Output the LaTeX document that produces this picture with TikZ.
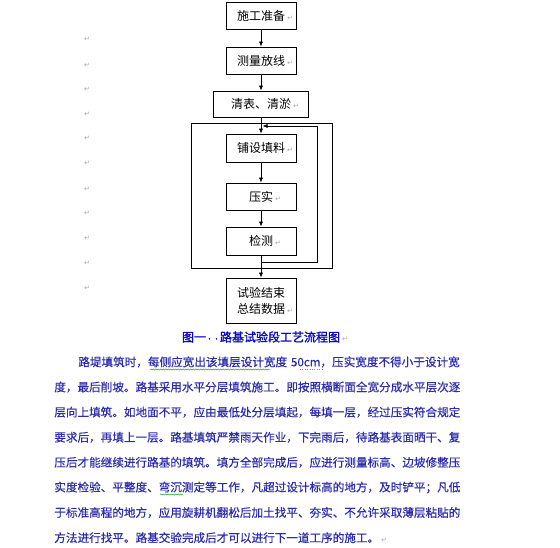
\documentclass[tikz,border=0pt]{standalone}
\usepackage{fontspec}
\usetikzlibrary{arrows.meta,decorations.pathmorphing}
\newfontfamily\cjk{Noto Sans CJK SC}
\newfontfamily\cjkbody[FakeBold=0.5]{Noto Sans CJK SC}
\newfontfamily\cjkbold[FakeBold=1.6]{Noto Sans CJK SC}
\newfontfamily\retfont{DejaVu Sans}
\XeTeXlinebreaklocale "zh"
\XeTeXlinebreakskip=0pt plus 1pt
\definecolor{bodyblue}{RGB}{45,45,170}
\definecolor{capblue}{RGB}{10,10,190}
\newcommand{\retmark}{\rlap{\,\textcolor{black!35}{\retfont\fontsize{7}{7}\selectfont ↵}}}
\newcommand{\fullline}{\leftskip=0pt\rightskip=0pt\parfillskip=0pt\relax}

\begin{document}
\begin{tikzpicture}[x=1pt, y=-1pt, line width=0.7pt,
	every node/.style={font=\cjk\fontsize{12}{16}\selectfont},
	stepbox/.style={draw, minimum width=70pt, minimum height=27pt, inner sep=0pt},
	flow/.style={-{Latex[length=5pt,width=4pt]}},
	bodyline/.style={anchor=west, inner sep=0pt, text width=413pt, text=bodyblue, font=\cjkbody\fontsize{11.6}{13}\selectfont},
	retmk/.style={text=black!35, inner sep=0pt, font=\retfont\fontsize{7}{7}\selectfont},
	spellmark/.style={green!55!black, line width=0.4pt, decorate, decoration={snake, amplitude=0.6pt, segment length=2.5pt}}]
	\useasboundingbox (0,0) rectangle (560,548);
	% flow chart
	\node[stepbox] (prep) at (261,16) {施工准备\retmark};
	\node[stepbox] (survey) at (261,60.5) {测量放线\retmark};
	\node[stepbox, minimum width=95pt, minimum height=26pt] (clear) at (261,104) {清表、清淤\retmark};
	\node[stepbox, minimum height=28pt] (spread) at (261,148) {铺设填料\retmark};
	\node[stepbox] (compact) at (261,196.5) {压实\retmark};
	\node[stepbox, minimum height=28pt] (check) at (261,241) {检测\retmark};
	\node[stepbox, minimum height=45pt, align=center] (finish) at (261,300.5) {试验结束\\总结数据\retmark};
	\draw (191,123) rectangle (332,268);
	\coordinate (lb) at (317,262);
	\coordinate (lt) at (317,126);
	\draw[flow] (prep) -- (survey);
	\draw[flow] (survey) -- (clear);
	\draw[flow] (clear) -- (spread);
	\draw[flow] (spread) -- (compact);
	\draw[flow] (compact) -- (check);
	\draw[flow] (check) -- (finish);
	\draw[flow] (check.south |- lb) -- (lb) -- (lt) -- ([xshift=1.5pt]spread.north |- lt);
	\node[text=capblue, font=\cjkbold\fontsize{12}{14}\selectfont] (caption) at (261,337) {图一{\fontsize{7}{7}\selectfont··}路基试验段工艺流程图\retmark};
	% paragraph marks of the empty lines
	\foreach \y in {39,65,89,114,138,163,189,213,238,263,288}
		\node[retmk] (mk\y) at (87,\y) {↵};
	% body text
	\node[bodyline, text width=389pt] (p1) at (78,362) {\fullline 路堤填筑时，每侧应宽出该填层设计宽度 50cm，压实宽度不得小于设计宽};
	\node[bodyline] (p2) at (54,387.1) {\fullline 度，最后削坡。路基采用水平分层填筑施工。即按照横断面全宽分成水平层次逐};
	\node[bodyline] (p3) at (54,412.2) {\fullline 层向上填筑。如地面不平，应由最低处分层填起，每填一层，经过压实符合规定};
	\node[bodyline] (p4) at (54,437.3) {\fullline 要求后，再填上一层。路基填筑严禁雨天作业，下完雨后，待路基表面晒干、复};
	\node[bodyline] (p5) at (54,462.4) {\fullline 压后才能继续进行路基的填筑。填方全部完成后，应进行测量标高、边坡修整压};
	\node[bodyline] (p6) at (54,487.5) {\fullline 实度检验、平整度、弯沉测定等工作，凡超过设计标高的地方，及时铲平；凡低};
	\node[bodyline] (p7) at (54,512.6) {\fullline 于标准高程的地方，应用旋耕机翻松后加土找平、夯实、不允许采取薄层粘贴的};
	\node[bodyline] (p8) at (54,537.7) {方法进行找平。路基交验完成后才可以进行下一道工序的施工。\retmark};
	% spelling marks
	\draw[spellmark] (150,369.5) -- (270,369.5);
	\draw[spellmark] (160,494.5) -- (183,494.5);
	\draw[violet!60, line width=0.4pt, dotted] (300,369.5) -- (322,369.5);
\end{tikzpicture}
\end{document}
